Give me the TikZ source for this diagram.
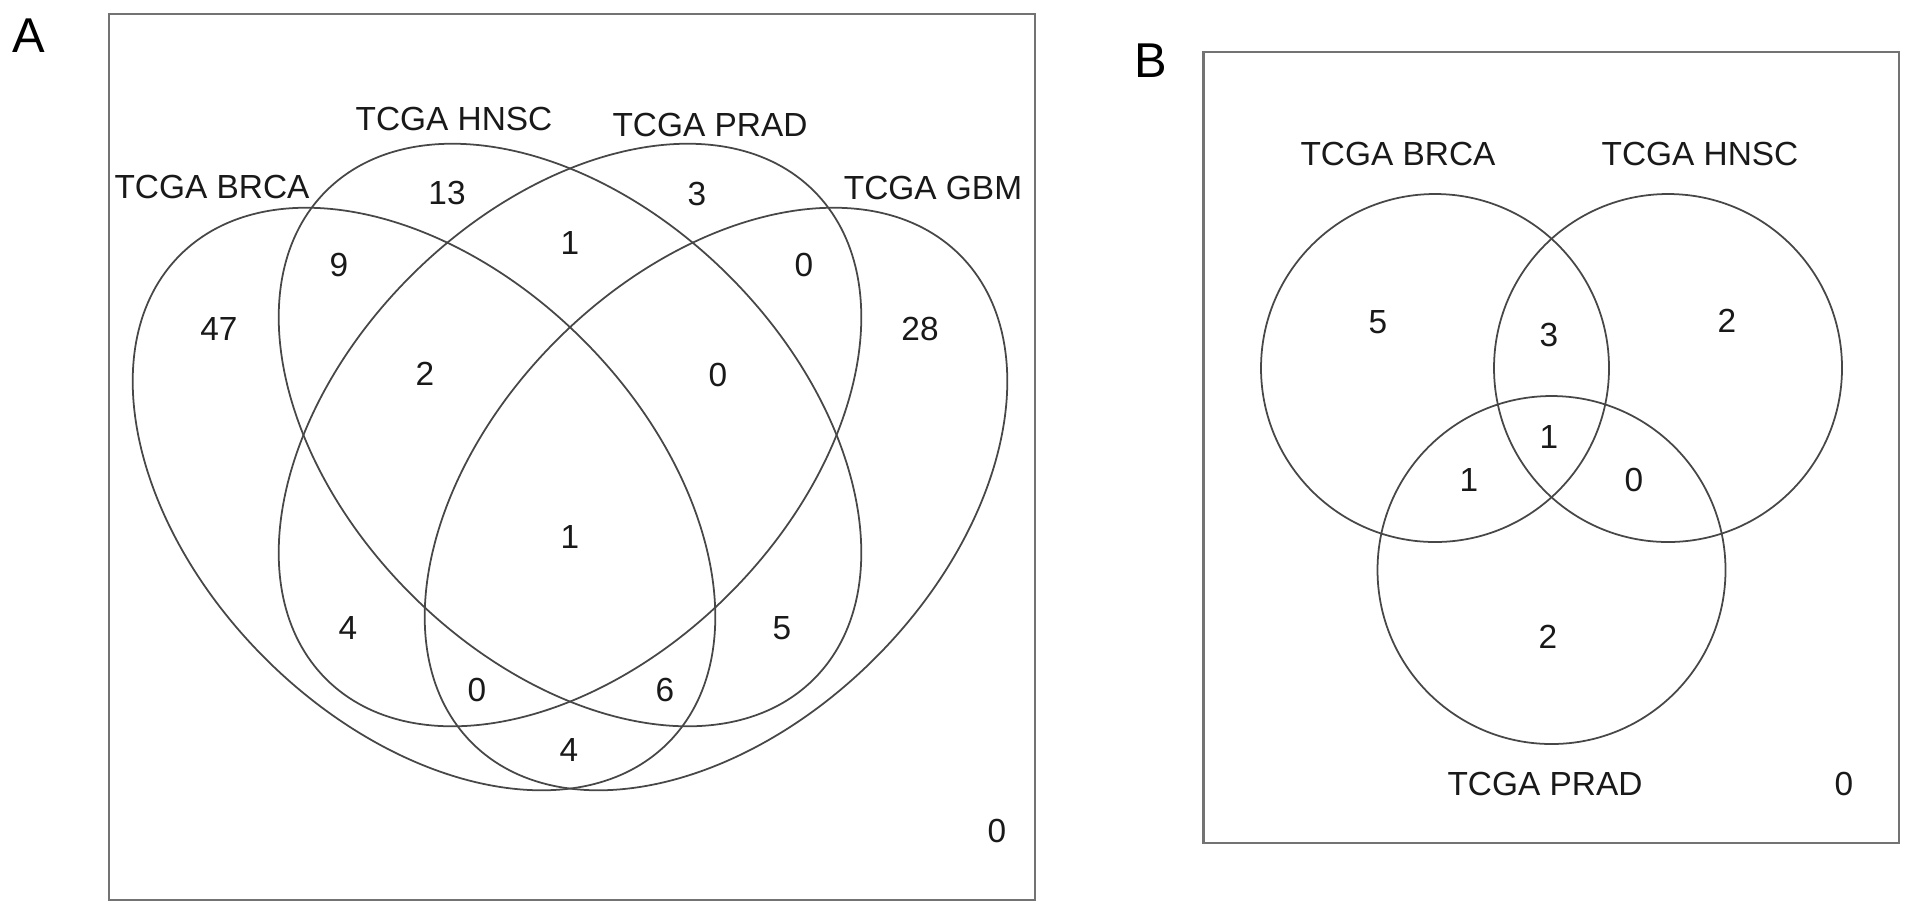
\documentclass[tikz,border=0pt]{standalone}
\usepackage{fontspec}
\setmainfont{Liberation Sans}
\begin{document}
\begin{tikzpicture}[x=0.01cm,y=-0.01cm,
  venn/.style={draw=black!72, line width=0.5pt},
  frame/.style={draw=black!55, line width=0.65pt},
  lbl/.style={inner sep=0pt, text=black!90, font=\fontsize{9.5}{11}\selectfont},
  panel/.style={inner sep=0pt, font=\fontsize{13.9}{16}\selectfont}]
\useasboundingbox (0,0) rectangle (1913,914);
% frames
\draw[frame] (109,14) rectangle (1035,900);
\draw[frame] (1203.5,52) rectangle (1899,843);
\node[panel] (pA) at (29,36) {A};
\node[panel] (pB) at (1151,61) {B};
% panel A ellipses
\draw[venn, rotate around={-45:(424,499)}] (424,499) ellipse [x radius=345, y radius=225];
\draw[venn, rotate around={-45:(570,435)}] (570,435) ellipse [x radius=345, y radius=225];
\draw[venn, rotate around={45:(570,435)}] (570,435) ellipse [x radius=345, y radius=225];
\draw[venn, rotate around={45:(716,499)}] (716,499) ellipse [x radius=345, y radius=225];
% panel A labels
\node[lbl] (aBRCA) at (212,187) {TCGA BRCA};
\node[lbl] (aHNSC) at (454,119) {TCGA HNSC};
\node[lbl] (aPRAD) at (710,125) {TCGA PRAD};
\node[lbl] (aGBM) at (933,188) {TCGA GBM};
\node[lbl] (n13) at (447,193) {13};
\node[lbl] (n9) at (339,265) {9};
\node[lbl] (n1a) at (570,243) {1};
\node[lbl] (n47) at (219,329) {47};
\node[lbl] (n2a) at (425,374) {2};
\node[lbl] (n3a) at (697,194) {3};
\node[lbl] (n0a) at (804,265) {0};
\node[lbl] (n28) at (920,329) {28};
\node[lbl] (n0b) at (718,375) {0};
\node[lbl] (n1b) at (570,537) {1};
\node[lbl] (n4a) at (348,628) {4};
\node[lbl] (n0c) at (477,690) {0};
\node[lbl] (n6) at (665,690) {6};
\node[lbl] (n4b) at (569,750) {4};
\node[lbl] (n5a) at (782,628) {5};
\node[lbl] (n0d) at (997,831) {0};
% panel B circles
\draw[venn] (1435,368) circle [radius=174];
\draw[venn] (1668,368) circle [radius=174];
\draw[venn] (1551.5,570) circle [radius=174];
% panel B labels
\node[lbl] (bBRCA) at (1398,154) {TCGA BRCA};
\node[lbl] (bHNSC) at (1700,154) {TCGA HNSC};
\node[lbl] (bPRAD) at (1545,784) {TCGA PRAD};
\node[lbl] (m5) at (1378,322) {5};
\node[lbl] (m3) at (1549,335) {3};
\node[lbl] (m2a) at (1727,321) {2};
\node[lbl] (m1a) at (1549,437) {1};
\node[lbl] (m1b) at (1469,480) {1};
\node[lbl] (m0a) at (1634,480) {0};
\node[lbl] (m2b) at (1548,637) {2};
\node[lbl] (m0b) at (1844,784) {0};
\end{tikzpicture}
\end{document}
